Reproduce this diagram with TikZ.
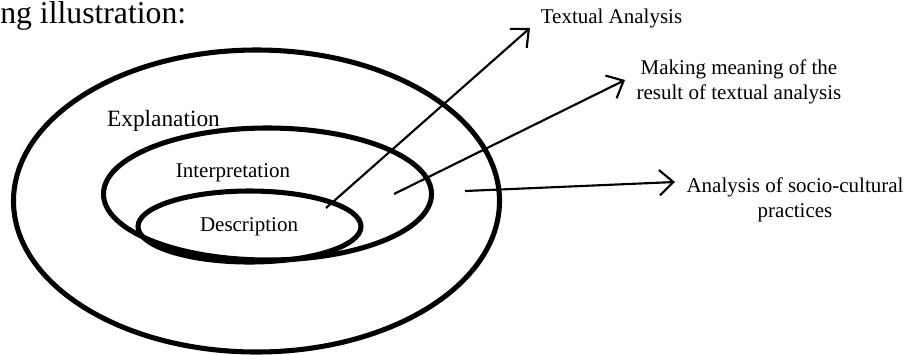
\documentclass[tikz,border=0pt]{standalone}
\usepackage{fontspec}
\setmainfont{Liberation Serif}
\usetikzlibrary{arrows.meta}
\begin{document}
\begin{tikzpicture}[x=0.75pt,y=-0.75pt,
  ring/.style={draw=black,line width=3.8pt},
  lbl/.style={font=\fontsize{15.75pt}{18.75pt}\selectfont,inner sep=0pt},
  side/.style={font=\fontsize{15.75pt}{18.75pt}\selectfont,inner sep=0pt,align=center},
  arr/.style={draw=black,line width=1.6pt,-{Straight Barb[length=10.5pt,width=19pt,line width=1.6pt]}}]
\useasboundingbox (0,0) rectangle (909,354);
% heading
\node[anchor=base west,inner sep=0pt,font=\fontsize{23.8pt}{28pt}\selectfont] (head) at (0,23) {ng illustration:};
% ellipses
\draw[ring] (256.5,201) ellipse [x radius=243, y radius=151];
\draw[ring] (267.5,194) ellipse [x radius=164, y radius=66];
\draw[ring] (249.5,226.5) ellipse [x radius=111.5, y radius=35.5];
% ring labels
\node[lbl,font=\fontsize{17.5pt}{20pt}\selectfont] (expl) at (163.5,121) {Explanation};
\node[lbl] (interp) at (233,173) {Interpretation};
\node[lbl] (desc) at (249,227) {Description};
% right labels
\node[side] (ta) at (611.5,18) {Textual Analysis};
\node[side] (mm) at (739,82) {Making meaning of the\\result of textual analysis};
\node[side] (sc) at (795,200) {Analysis of socio-cultural\\practices};
% arrow anchors
\coordinate (s1) at (326,208);
\coordinate (t1) at (530,28);
\coordinate (s2) at (394,194);
\coordinate (t2) at (625,80);
\coordinate (s3) at (465,191);
\coordinate (t3) at (675,182);
\draw[arr] (s1) -- (t1);
\draw[arr] (s2) -- (t2);
\draw[arr] (s3) -- (t3);
\end{tikzpicture}
\end{document}
